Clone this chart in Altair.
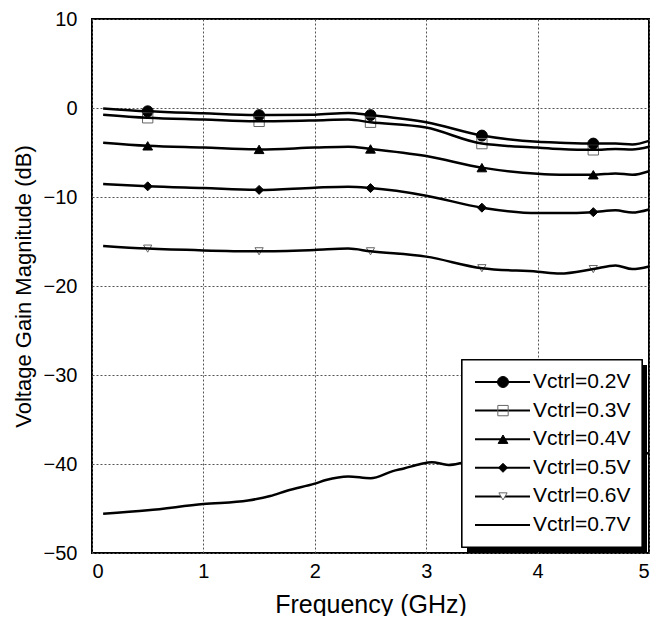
import altair as alt
import pandas as pd

labels = ["Vctrl=0.2V", "Vctrl=0.3V", "Vctrl=0.4V", "Vctrl=0.5V", "Vctrl=0.6V", "Vctrl=0.7V"]

freq = [0.1, 0.5, 1.0, 1.5, 2.0, 2.3, 2.5, 3.0, 3.5, 4.0, 4.2, 4.5, 4.7, 4.85, 5.0]
v02 = [-0.05, -0.37, -0.6, -0.8, -0.75, -0.55, -0.8, -1.6, -3.1, -3.8, -3.9, -4.0, -4.0, -4.1, -3.7]
v03 = [-0.75, -1.1, -1.3, -1.5, -1.4, -1.3, -1.6, -2.2, -4.0, -4.45, -4.6, -4.7, -4.6, -4.65, -4.35]
v04 = [-3.9, -4.25, -4.45, -4.65, -4.45, -4.35, -4.6, -5.4, -6.7, -7.4, -7.5, -7.5, -7.35, -7.5, -7.1]
v05 = [-8.55, -8.8, -9.0, -9.2, -8.95, -8.85, -9.0, -9.85, -11.2, -11.8, -11.8, -11.7, -11.5, -11.75, -11.4]
v06 = [-15.5, -15.8, -16.0, -16.1, -15.95, -15.8, -16.1, -16.7, -18.0, -18.4, -18.6, -18.1, -17.7, -18.1, -17.8]

freq07 = [0.1, 0.5, 1.0, 1.4, 1.6, 1.75, 2.0, 2.1, 2.3, 2.5, 2.7, 2.8, 2.95, 3.05, 3.2, 3.35, 3.6, 4.0, 4.5, 5.0]
v07 = [-45.6, -45.2, -44.5, -44.1, -43.6, -43.0, -42.2, -41.8, -41.4, -41.6, -40.8, -40.5, -40.0, -39.8,
       -40.1, -39.8, -39.5, -39.2, -39.0, -38.8]

marker_freq = [0.5, 1.5, 2.5, 3.5, 4.5]

shapes = ["circle", "square", "triangle-up", "diamond", "triangle-down", "circle"]
fills = ["black", "transparent", "black", "black", "white", "black"]
strokes = ["black", "#666666", "black", "black", "#666666", "black"]
sizes = [120, 55, 80, 95, 75, 0]

rows = []
for lab, ys in zip(labels[:5], [v02, v03, v04, v05, v06]):
    for f, v in zip(freq, ys):
        rows.append({"series": lab, "freq": f, "gain": v})
for f, v in zip(freq07, v07):
    rows.append({"series": labels[5], "freq": f, "gain": v})
df = pd.DataFrame(rows)

mrows = []
for lab, ys in zip(labels[:5], [v02, v03, v04, v05, v06]):
    for mf in marker_freq:
        mrows.append({"series": lab, "freq": mf, "gain": ys[freq.index(mf)]})
mdf = pd.DataFrame(mrows)

leg = pd.DataFrame({"series": labels})

FONT = "Liberation Sans"

xenc = alt.X("freq:Q", scale=alt.Scale(domain=[0, 5], nice=False),
             axis=alt.Axis(values=[0, 1, 2, 3, 4, 5], title="Frequency (GHz)", format="d",
                           grid=True, titleFontSize=25, titleY=51, titleBaseline="middle"))
yenc = alt.Y("gain:Q", scale=alt.Scale(domain=[-50, 10], nice=False),
             axis=alt.Axis(values=[-50, -40, -30, -20, -10, 0, 10], title="Voltage Gain Magnitude (dB)",
                           grid=True, titleFontSize=22, titleX=-69, titleBaseline="middle"))

shape_scale = alt.Scale(domain=labels, range=shapes)
fill_scale = alt.Scale(domain=labels, range=fills)
stroke_scale = alt.Scale(domain=labels, range=strokes)
size_scale = alt.Scale(domain=labels, range=sizes)

points = alt.Chart(mdf).mark_point(opacity=1, strokeWidth=1).encode(
    x=xenc, y=yenc,
    shape=alt.Shape("series:N", scale=shape_scale, legend=None),
    fill=alt.Fill("series:N", scale=fill_scale, legend=None),
    stroke=alt.Stroke("series:N", scale=stroke_scale, legend=None),
    size=alt.Size("series:N", scale=size_scale, legend=None),
)

lines = alt.Chart(df).mark_line(color="black", strokeWidth=2.5, interpolate="monotone").encode(
    x="freq:Q", y="gain:Q", detail="series:N"
)

main = alt.layer(points, lines)

leg_y = alt.Y("series:N", scale=alt.Scale(type="point", domain=labels, range=[363, 506], padding=0), axis=None)

shadow = alt.Chart(leg).mark_rect(fill="black").encode(
    x=alt.value(375), x2=alt.value(555), y=alt.value(346), y2=alt.value(533)
)
box = alt.Chart(leg).mark_rect(fill="white", stroke="black", strokeWidth=1.2).encode(
    x=alt.value(370), x2=alt.value(550), y=alt.value(341), y2=alt.value(528)
)
leg_rule = alt.Chart(leg).mark_rule(color="black", strokeWidth=2).encode(
    x=alt.value(383), x2=alt.value(438), y=leg_y
)
leg_pts = alt.Chart(leg).transform_filter(alt.datum.series != labels[5]).mark_point(opacity=1, strokeWidth=1).encode(
    x=alt.value(411), y=leg_y,
    shape=alt.Shape("series:N", scale=shape_scale, legend=None),
    fill=alt.Fill("series:N", scale=fill_scale, legend=None),
    stroke=alt.Stroke("series:N", scale=stroke_scale, legend=None),
    size=alt.Size("series:N", scale=size_scale, legend=None),
)
leg_txt = alt.Chart(leg).mark_text(align="left", baseline="middle", fontSize=21, font=FONT, color="black").encode(
    x=alt.value(441), y=leg_y, text="series:N"
)
legend_layer = alt.layer(shadow, box, leg_rule, leg_pts, leg_txt)

chart = alt.layer(main, legend_layer).resolve_scale(y="independent").properties(
    width=557, height=534,
    autosize=alt.AutoSizeParams(type="none"),
    padding={"left": 84, "top": 11, "right": 6, "bottom": 63}
).configure_view(
    stroke="black", strokeWidth=2
).configure_axis(
    labelFont=FONT, titleFont=FONT, labelFontSize=20,
    labelColor="black", titleColor="black", titleFontWeight="normal",
    domain=False, ticks=False, gridColor="#555555", gridDash=[2, 2], gridWidth=1
).configure_axisY(
    labelPadding=15
).configure_axisX(
    labelPadding=8
)

chart.save("out.html", embed_options={"renderer": "svg", "actions": False})
